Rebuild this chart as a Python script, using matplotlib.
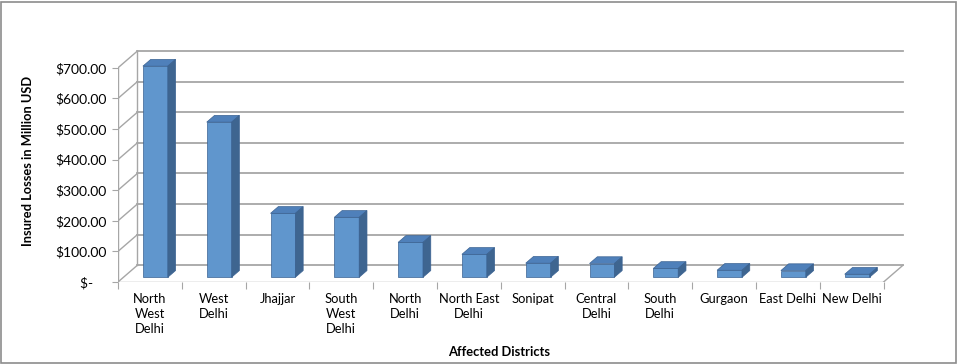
import numpy as np
import matplotlib.pyplot as plt
from matplotlib.patches import Polygon, Rectangle

districts = ["North\nWest\nDelhi", "West\nDelhi", "Jhajjar", "South\nWest\nDelhi",
             "North\nDelhi", "North East\nDelhi", "Sonipat", "Central\nDelhi",
             "South\nDelhi", "Gurgaon", "East Delhi", "New Delhi"]
losses = [690, 507, 209, 196, 114, 75, 46, 45, 29, 23, 22, 10]
yticks = [0, 100, 200, 300, 400, 500, 600, 700]
ytick_labels = ["$-    ", "$100.00", "$200.00", "$300.00", "$400.00",
                "$500.00", "$600.00", "$700.00"]

plt.rcParams['font.family'] = ['Lato', 'DejaVu Sans']

W, H = 960, 364
fig = plt.figure(figsize=(W / 100, H / 100), dpi=100)
ax = fig.add_axes([118 / W, (H - 282) / H, (905 - 118) / W, (282 - 47) / H])

n = len(losses)
DX, DY = 0.305, 55       # oblique depth offset (categories, value units)
d0, d1 = 0.28, 0.68      # bar front/back depth
bw = 0.39
grid_c = "#A6A6A6"
x0, x1 = -0.5, n - 0.5

ax.set_xlim(x0, x0 + (905 - 118) / 63.8)
ax.set_ylim(0, (282 - 47) / 0.306)

# back wall gridlines and left wall
for v in yticks:
    ax.plot([x0 + DX, x1 + DX], [v + DY, v + DY], color=grid_c, lw=1.3, zorder=1)
    ax.plot([x0, x0 + DX], [v, v + DY], color=grid_c, lw=1.0, zorder=1)
ax.plot([x0 + DX, x0 + DX], [DY, yticks[-1] + DY], color=grid_c, lw=1.0, zorder=1)
# front axis and floor
ax.plot([x0, x0], [0, yticks[-1]], color=grid_c, lw=1.0, zorder=1)
ax.plot([x0, x1], [0, 0], color=grid_c, lw=1.0, zorder=1)
ax.plot([x1, x1 + DX], [0, DY], color=grid_c, lw=1.0, zorder=1)

front_c, top_c, side_c, edge_c = "#6096CD", "#4F80BA", "#3E6590", "#3A6292"
for i, v in enumerate(losses):
    l = i - bw / 2 + d0 * DX
    r = l + bw
    b = d0 * DY
    ddx, ddy = (d1 - d0) * DX, (d1 - d0) * DY
    front = [(l, b), (r, b), (r, b + v), (l, b + v)]
    top = [(l, b + v), (r, b + v), (r + ddx, b + v + ddy), (l + ddx, b + v + ddy)]
    side = [(r, b), (r + ddx, b + ddy), (r + ddx, b + v + ddy), (r, b + v)]
    for pts, c in [(front, front_c), (top, top_c), (side, side_c)]:
        ax.add_patch(Polygon(pts, closed=True, facecolor=c, edgecolor=edge_c,
                             lw=0.5, zorder=3))

for s in ax.spines.values():
    s.set_visible(False)
ax.set_yticks(yticks)
ax.set_yticklabels(ytick_labels, fontsize=10)
ax.tick_params(axis='y', length=4, color=grid_c, pad=4)
ax.set_xticks(np.arange(x0, x1 + 0.1, 1.0))
ax.set_xticklabels([])
ax.tick_params(axis='x', which='major', length=5, color=grid_c, direction='out')
ax.set_xticks(np.arange(n), minor=True)
ax.set_xticklabels(districts, minor=True, fontsize=9.3, linespacing=1.3, va='top')
ax.tick_params(axis='x', which='minor', length=0, pad=8)

fig.text(28 / W, 1 - 161 / H, "Insured Losses in Million USD", rotation=90,
         ha='center', va='center', fontsize=9.3, fontweight='bold')
fig.text(499 / W, 1 - 352 / H, "Affected Districts", ha='center', va='center',
         fontsize=9.3, fontweight='bold')

fig.patches.append(Rectangle((1 / W, 1 / H), 955 / W, 361 / H, transform=fig.transFigure,
                             fill=False, edgecolor="#8C8C8C", lw=1.2))

fig.savefig("out.png", dpi=100)
